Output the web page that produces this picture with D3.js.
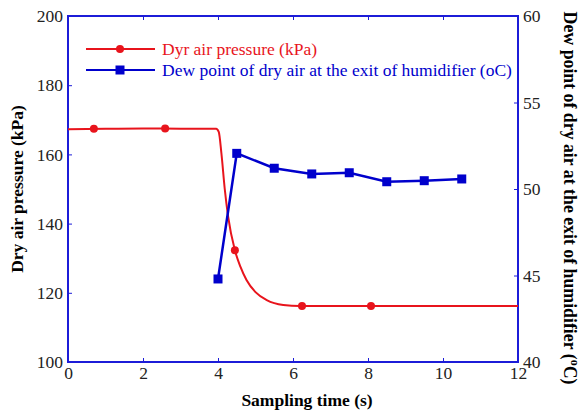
<!DOCTYPE html>
<html>
<head>
<meta charset="utf-8">
<script src="https://cdn.jsdelivr.net/npm/d3@7"></script>
<style>
  body { margin: 0; background: #fff; }
</style>
</head>
<body>
<div id="chart"></div>
<script>
// pressure trace (kPa)
var pressureTime = [0, 1, 2, 3, 3.95, 4.02, 4.09, 4.18, 4.27, 4.45, 4.6, 4.76, 5.0, 5.3, 5.74, 6.19, 8, 10, 12];
var pressureVal = [167.3, 167.4, 167.5, 167.4, 167.4, 166.5, 160.4, 150, 142, 132.3, 127.5, 123.7, 120.2, 117.9, 116.5, 116.2, 116.2, 116.2, 116.2];
// red circle markers
var pressureMarkTime = [0.69, 2.59, 4.45, 6.24, 8.08];
var pressureMarkVal = [167.4, 167.5, 132.3, 116.2, 116.2];
// dew point series (oC)
var dewTime = [4, 4.5, 5.5, 6.5, 7.5, 8.5, 9.5, 10.5];
var dewVal = [44.8, 52.06, 51.2, 50.87, 50.94, 50.42, 50.48, 50.58];

var xTicks = [0, 2, 4, 6, 8, 10, 12];
var yLeftTicks = [100, 120, 140, 160, 180, 200];
var yRightTicks = [40, 45, 50, 55, 60];

var width = 581, height = 414;
var margin = { top: 16, right: 63, bottom: 52, left: 68 };
var innerWidth = width - margin.left - margin.right,
  innerHeight = height - margin.top - margin.bottom;

var red = "#e8141c", blue = "#0000cc", frame = "#1c1cd8";
var serif = '"Liberation Serif", "Times New Roman", Times, serif';
var tickFont = 17.5;

var svg = d3.select("#chart").append("svg")
  .attr("width", width).attr("height", height)
  .style("font-family", serif);
var shift = "translate(" + margin.left + "," + margin.top + ")";
var g = svg.append("g").attr("class", "plot").attr("transform", shift);

var xScale = d3.scaleLinear().domain([0, 12]).range([0, innerWidth]);
var yLeft = d3.scaleLinear().domain([100, 200]).range([innerHeight, 0]);
var yRight = d3.scaleLinear().domain([40, 60]).range([innerHeight, 0]);

// frame
g.append("rect")
  .attr("width", innerWidth).attr("height", innerHeight)
  .attr("fill", "none").attr("stroke", frame).attr("stroke-width", 2);

// pressure line
var pressure = pressureTime.map(function (t, i) { return [t, pressureVal[i]]; });
g.append("path")
  .datum(pressure)
  .attr("fill", "none").attr("stroke", red).attr("stroke-width", 2)
  .attr("d", d3.line().curve(d3.curveMonotoneX)
    .x(function (d) { return xScale(d[0]); })
    .y(function (d) { return yLeft(d[1]); }));

g.selectAll(".pmark")
  .data(pressureMarkTime)
  .enter().append("circle")
  .attr("class", "pmark")
  .attr("cx", function (d) { return xScale(d); })
  .attr("cy", function (d, i) { return yLeft(pressureMarkVal[i]); })
  .attr("r", 4)
  .attr("fill", red);

// dew point line
var dew = dewTime.map(function (t, i) { return [t, dewVal[i]]; });
g.append("path")
  .datum(dew)
  .attr("fill", "none").attr("stroke", blue).attr("stroke-width", 2.5)
  .attr("d", d3.line()
    .x(function (d) { return xScale(d[0]); })
    .y(function (d) { return yRight(d[1]); }));

g.selectAll(".dmark")
  .data(dew)
  .enter().append("rect")
  .attr("class", "dmark")
  .attr("x", function (d) { return xScale(d[0]) - 4.5; })
  .attr("y", function (d) { return yRight(d[1]) - 4.5; })
  .attr("width", 9).attr("height", 9)
  .attr("fill", blue);

// axes with inward ticks, kept in their own group
var axes = svg.append("g").attr("class", "axes").attr("transform", shift);

function styleAxis(sel) {
  sel.attr("font-family", null).attr("font-size", null);
  sel.select(".domain").remove();
  sel.selectAll(".tick line").attr("stroke", frame).attr("stroke-width", 1);
  sel.selectAll(".tick text").attr("fill", "#222")
    .style("font-family", serif).style("font-size", tickFont + "px");
}

axes.append("g").attr("transform", "translate(0," + innerHeight + ")")
  .call(d3.axisBottom(xScale).tickValues(xTicks).tickSizeInner(-4).tickSizeOuter(0).tickPadding(5))
  .call(styleAxis);
axes.append("g")
  .call(d3.axisTop(xScale).tickValues(xTicks.slice(1, -1)).tickSizeInner(-4).tickSizeOuter(0).tickFormat(""))
  .call(function (sel) {
    sel.select(".domain").remove();
    sel.selectAll(".tick text").remove();
    sel.selectAll(".tick line").attr("stroke", frame).attr("stroke-width", 1);
  });
axes.append("g")
  .call(d3.axisLeft(yLeft).tickValues(yLeftTicks).tickSizeInner(-4).tickSizeOuter(0).tickPadding(5))
  .call(styleAxis);
axes.append("g").attr("transform", "translate(" + innerWidth + ",0)")
  .call(d3.axisRight(yRight).tickValues(yRightTicks).tickSizeInner(-4).tickSizeOuter(0).tickPadding(5))
  .call(styleAxis);

// legend
var legend = g.append("g").attr("transform", "translate(18,33)");
var legendItems = [
  { label: "Dyr air pressure (kPa)", color: red, shape: "circle" },
  { label: "Dew point of dry air at the exit of humidifier (oC)", color: blue, shape: "square" }
];
var item = legend.selectAll(".legend-item")
  .data(legendItems)
  .enter().append("g")
  .attr("class", "legend-item")
  .attr("transform", function (d, i) { return "translate(0," + i * 21 + ")"; });
item.append("line")
  .attr("x1", 0).attr("x2", 69)
  .attr("stroke", function (d) { return d.color; })
  .attr("stroke-width", 2.2);
item.each(function (d) {
  var s = d3.select(this);
  if (d.shape === "circle") {
    s.append("circle").attr("cx", 34).attr("r", 4).attr("fill", d.color);
  } else {
    s.append("rect").attr("x", 29.5).attr("y", -4.5).attr("width", 9).attr("height", 9).attr("fill", d.color);
  }
});
item.append("text")
  .attr("x", 76).attr("dy", "0.35em")
  .style("font-size", "17.5px")
  .attr("fill", function (d) { return d.color; })
  .text(function (d) { return d.label; });

// axis titles
svg.append("text")
  .attr("x", 307).attr("y", 406)
  .attr("text-anchor", "middle")
  .style("font-size", "17.5px").style("font-weight", "bold")
  .text("Sampling time (s)");

svg.append("text")
  .attr("transform", "translate(23," + (margin.top + innerHeight / 2) + ") rotate(-90)")
  .attr("text-anchor", "middle")
  .style("font-size", "17.5px").style("font-weight", "bold")
  .text("Dry air pressure (kPa)");

var rt = svg.append("text")
  .attr("transform", "translate(564,198) rotate(90)")
  .attr("text-anchor", "middle")
  .style("font-size", "17.8px").style("font-weight", "bold");
rt.append("tspan").text("Dew point of dry air at the exit of humidifier (");
rt.append("tspan").attr("baseline-shift", "super").style("font-size", "12px").text("o");
rt.append("tspan").text("C)");
</script>
</body>
</html>
